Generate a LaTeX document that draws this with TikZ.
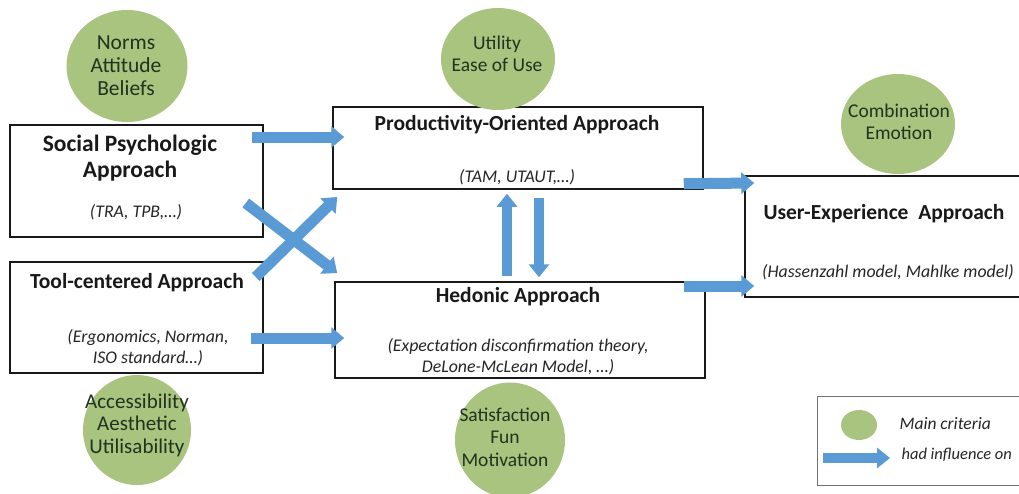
\documentclass[tikz,border=0pt]{standalone}
\usepackage{fontspec}
\setmainfont{Carlito}
\usetikzlibrary{arrows.meta,calc,shapes.geometric}
\definecolor{critfill}{HTML}{A8C47E}
\definecolor{flowblue}{HTML}{5B9BD5}
\definecolor{crittext}{HTML}{1F3320}
\begin{document}
\begin{tikzpicture}[x=1pt,y=-1pt,
  approach/.style={draw=black!90, line width=1.5pt, fill=white, inner sep=0pt},
  critnode/.style={ellipse, fill=critfill, inner sep=0pt},
  titletxt/.style={font=\fontsize{21.5}{26}\selectfont\bfseries, text=black!90, align=center},
  reftxt/.style={font=\fontsize{17.8}{21}\selectfont\itshape, text=black!85, align=center},
  crittxt/.style={font=\fontsize{19.5}{22.5}\selectfont, text=crittext, align=center},
  flow/.style={draw=flowblue, line width=11pt, -{Triangle[width=21pt,length=13pt]}}]
\useasboundingbox (0,0) rectangle (1019,493);
\clip (0,0) rectangle (1019,493);
\fill[white] (0,0) rectangle (1019,493);

% approach boxes
\node[approach, minimum width=253pt, minimum height=112pt] (sp) at (136.5,181) {};
\node[approach, minimum width=253pt, minimum height=111pt] (tc) at (136.5,317.5) {};
\node[approach, minimum width=370pt, minimum height=82pt] (po) at (518,148) {};
\node[approach, minimum width=370pt, minimum height=96pt] (he) at (520,330) {};
\node[approach, minimum width=285pt, minimum height=121pt] (ux) at (887.5,236.5) {};
\node[draw=black!55, line width=1pt, minimum width=213pt, minimum height=89pt, inner sep=0pt] (leg) at (923.5,440.5) {};

% texts in boxes
\node[titletxt, font=\fontsize{23.5}{26}\selectfont\bfseries] (spt) at (130,158) {Social Psychologic\\Approach};
\node[reftxt] (spr) at (136,212) {(TRA, TPB,…)};
\node[titletxt] (tct) at (137,283) {Tool-centered Approach};
\node[reftxt] (tcr) at (148,347.5) {(Ergonomics, Norman,\\ISO standard…)};
\node[titletxt] (pot) at (517,125) {Productivity-Oriented Approach};
\node[reftxt] (por) at (517,177) {(TAM, UTAUT,…)};
\node[titletxt] (het) at (518,297) {Hedonic Approach};
\node[reftxt] (her) at (518,357) {(Expectation disconfirmation theory,\\DeLone-McLean Model, …)};
\node[titletxt] (uxt) at (884,214) {User-Experience\ \ Approach};
\node[reftxt] (uxr) at (888,272) {(Hassenzahl model, Mahlke model)};

% criteria circles
\node[critnode, minimum width=121pt, minimum height=112pt] (cnorm) at (127,66) {};
\node[crittxt, font=\fontsize{21.5}{23}\selectfont] at (126,66) {Norms\\Attitude\\Beliefs};
\node[critnode, minimum width=114pt, minimum height=102pt] (cutil) at (498,59) {};
\node[crittxt] at (497,54) {Utility\\Ease of Use};
\node[critnode, minimum width=114pt, minimum height=100pt] (ccomb) at (898,124) {};
\node[crittxt] at (899,122) {Combination\\Emotion};
\node[critnode, minimum width=108pt, minimum height=110pt] (cacc) at (137,430) {};
\node[crittxt, font=\fontsize{21}{22.5}\selectfont] at (137,425) {Accessibility\\Aesthetic\\Utilisability};
\node[critnode, minimum width=110pt, minimum height=115pt] (csat) at (510,440) {};
\node[crittxt] at (505,437) {Satisfaction\\Fun\\Motivation};

% influence arrows
\draw[flow] ($(sp.east)+(-12,-44)$) -- ($(po.west)+(12,-11)$);
\draw[flow] ($(sp.east)+(-18,22)$) -- ($(he.west)+(3,-57)$);
\draw[flow] ($(tc.east)+(-8,-40.5)$) -- ($(po.west)+(5,49)$);
\draw[flow] ($(tc.east)+(-13,20.5)$) -- ($(he.west)+(10,8)$);
\draw[flow, line width=10pt, -{Triangle[width=20pt,length=13pt]}] ($(he.north)+(-13,-5)$) -- ($(po.south)+(-11,4)$);
\draw[flow, line width=10pt, -{Triangle[width=20pt,length=13pt]}] ($(po.south)+(21,8)$) -- ($(he.north)+(19,-4)$);
\draw[flow] ($(po.south east)+(-20,-6)$) -- ($(ux.west)+(10,-53.5)$);
\draw[flow] ($(he.east)+(-22,-44)$) -- ($(ux.west)+(10,49.5)$);

% legend
\node[critnode, minimum width=36pt, minimum height=30pt] (legc) at (859,425) {};
\coordinate (legs) at (823,458);
\coordinate (lege) at (890,458);
\draw[flow, line width=10pt, -{Triangle[width=20pt,length=13pt]}] (legs) -- (lege);
\node[font=\fontsize{17.5}{21}\selectfont\itshape, text=black!85, anchor=west] (legt1) at (896,424) {Main criteria};
\node[font=\fontsize{16.5}{21}\selectfont\itshape, text=black!85, anchor=west] (legt2) at (898,455) {had influence on};
\end{tikzpicture}
\end{document}
